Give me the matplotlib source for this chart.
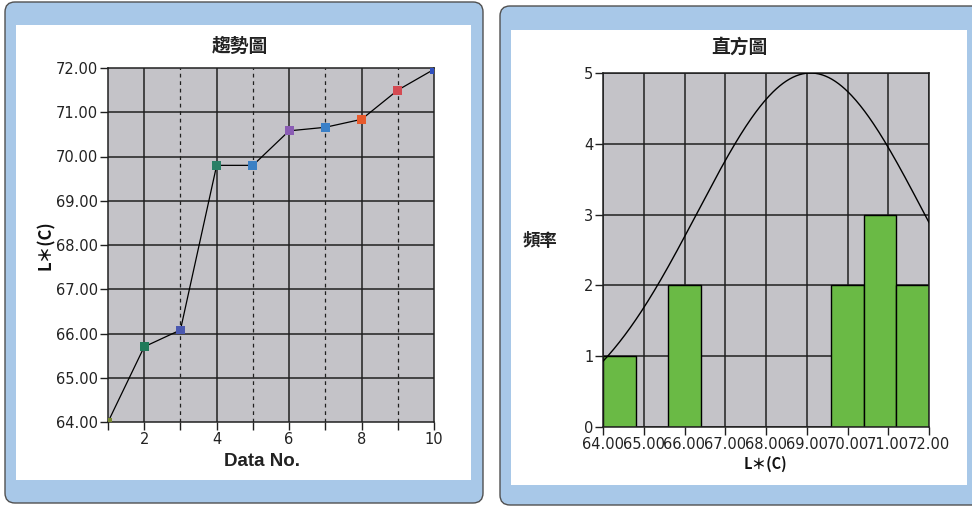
import numpy as np
import matplotlib
matplotlib.use("Agg")
import matplotlib.pyplot as plt
from matplotlib.patches import FancyBboxPatch
from matplotlib.ticker import FormatStrFormatter, MultipleLocator

plt.rcParams['font.family'] = ['DejaVu Sans', 'Noto Sans CJK TC']

# ================= DATA =================
data_no = [1, 2, 3, 4, 5, 6, 7, 8, 9, 10]
l_values = [64.00, 65.70, 66.08, 69.80, 69.80, 70.58, 70.66, 70.84, 71.50, 71.97]
point_colors = ['#7a8a30', '#1f7a5a', '#4a58b0', '#2a7f66', '#3a80c4',
                '#8a5cb4', '#3a80c8', '#e85a2c', '#d44a52', '#3050c0']
bin_edges = [64.0, 64.8, 65.6, 66.4, 67.2, 68.0, 68.8, 69.6, 70.4, 71.2, 72.0]

CJK = 'Noto Sans CJK TC'
GRAY = '#c4c3c8'
PANEL = '#a8c8e8'
GRID = '#202020'

fig = plt.figure(figsize=(9.72, 5.08), dpi=100)

# ================= PAINEIS DE FUNDO =================
bg = fig.add_axes([0, 0, 1, 1], zorder=-1)
bg.set_xlim(0, 972)
bg.set_ylim(508, 0)
bg.axis('off')
for (x, y, w, h), (ix, iy, iw, ih) in [((5, 2, 478, 501), (16, 25, 455, 455)),
                                        ((500, 6, 490, 499), (511, 30, 456, 455))]:
    bg.add_patch(FancyBboxPatch((x, y), w, h, boxstyle="round,pad=0,rounding_size=10",
                                facecolor=PANEL, edgecolor='#505050', lw=1.0))
    bg.add_patch(plt.Rectangle((ix, iy), iw, ih, facecolor='white', edgecolor='none'))

# ================= GRAFICO DE TENDENCIA =================
ax1 = fig.add_axes([108 / 972, 1 - 422 / 508, 326 / 972, 354 / 508])
ax1.set_facecolor(GRAY)
ax1.set_xlim(1, 10)
ax1.set_ylim(64, 72)
ax1.yaxis.set_major_locator(MultipleLocator(1))
ax1.yaxis.set_major_formatter(FormatStrFormatter('%.2f'))
ax1.set_xticks(range(1, 11))
ax1.set_xticklabels(['' if i % 2 else str(i) for i in range(1, 11)])
for yv in range(65, 72):
    ax1.axhline(yv, color=GRID, lw=1.1, zorder=1)
for xv in range(2, 10):
    ax1.axvline(xv, color=GRID, lw=1.1 if xv % 2 == 0 else 0.9,
                ls='-' if xv % 2 == 0 else (0, (3, 3)), zorder=1)
ax1.plot(data_no, l_values, color='black', lw=0.9, zorder=2)
ax1.scatter(data_no, l_values, marker='s', s=40, c=point_colors, zorder=3, linewidths=0)
ax1.tick_params(length=6, width=1, color=GRID, labelsize=10.5, pad=1, labelcolor='#222222')
for sp in ax1.spines.values():
    sp.set_color(GRID)
    sp.set_linewidth(1.1)

fig.text(240 / 972, 1 - 46 / 508, '趨勢圖', family=CJK, weight='bold', fontsize=13.5,
         ha='center', va='center', color='#222222')
fig.text(46 / 972, 1 - 245 / 508, 'L＊(C)', family=CJK, weight='bold', fontsize=12,
         ha='center', va='center', rotation=90, color='#111111')
fig.text(262 / 972, 1 - 461 / 508, 'Data No.', family='Liberation Sans', weight='bold',
         fontsize=13.5, ha='center', va='center', color='#222222')

# ================= HISTOGRAMA =================
ax2 = fig.add_axes([603 / 972, 1 - 427 / 508, 326 / 972, 354 / 508])
ax2.set_facecolor(GRAY)
ax2.set_xlim(64, 72)
ax2.set_ylim(0, 5)
ax2.xaxis.set_major_locator(MultipleLocator(1))
ax2.xaxis.set_major_formatter(FormatStrFormatter('%.2f'))
ax2.yaxis.set_major_locator(MultipleLocator(1))
ax2.set_axisbelow(True)
ax2.grid(True, color=GRID, lw=1.1)
ax2.hist(l_values, bins=bin_edges, color='#6aba45', edgecolor='black', lw=1.0, zorder=2)

mu = np.mean(l_values)
sd = np.std(l_values, ddof=1)
xs = np.linspace(64, 72, 300)
curve = np.exp(-(xs - mu) ** 2 / (2 * sd ** 2))
ax2.plot(xs, curve * 5 / curve.max(), color='black', lw=1.0, zorder=3)
ax2.tick_params(length=6, width=1, color=GRID, labelsize=10.5, pad=1, labelcolor='#222222')
for sp in ax2.spines.values():
    sp.set_color(GRID)
    sp.set_linewidth(1.1)

fig.text(739 / 972, 1 - 47 / 508, '直方圖', family=CJK, weight='bold', fontsize=13.5,
         ha='center', va='center', color='#222222')
fig.text(540 / 972, 1 - 241 / 508, '頻率', family=CJK, weight='bold', fontsize=12.5,
         ha='center', va='center', color='#222222')
fig.text(765 / 972, 1 - 464 / 508, 'L＊(C)', family=CJK, weight='bold', fontsize=10.5,
         ha='center', va='center', color='#111111')

fig.savefig('out.png', dpi=100)
